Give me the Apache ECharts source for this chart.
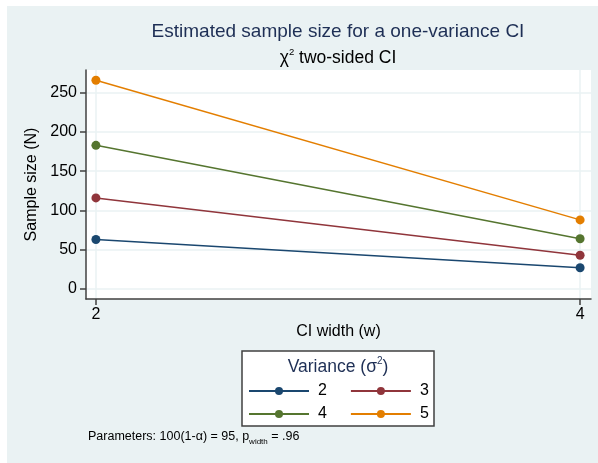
<!DOCTYPE html>
<html>
<head>
<meta charset="utf-8">
<script src="https://cdn.jsdelivr.net/npm/echarts@6/dist/echarts.min.js"></script>
<style>
  html, body { margin: 0; padding: 0; background: #fff; }
</style>
</head>
<body>
<div id="main" style="width:598px;height:463px;"></div>
<script>
// CI width (w) on the x axis
const widths = [2, 4]
// one line per variance
const varianceNames = ['2', '3', '4', '5']
const var2 = [63, 27]
const var3 = [116, 43]
const var4 = [183, 64]
const var5 = [266, 88]
const yTicks = [0, 50, 100, 150, 200, 250]
const xTicks = [2, 4]

const colors = ['#1a476f', '#90353b', '#55752f', '#e37e00']
const font = 'Liberation Sans, Arial, sans-serif'

function pairs(vals) {
  return widths.map((w, i) => [w, vals[i]])
}

const myChart = echarts.init(document.getElementById('main'))

const allVals = [var2, var3, var4, var5]
const series = varianceNames.map((name, i) => ({
  name: name,
  type: 'line',
  data: pairs(allVals[i]),
  symbol: 'circle',
  symbolSize: 9,
  color: colors[i],
  lineStyle: { width: 1.5 },
  animation: false
}))

const legendCommon = {
  orient: 'horizontal',
  left: 248,
  padding: 0,
  itemWidth: 60,
  itemHeight: 10,
  itemGap: 23,
  textStyle: { fontSize: 16, color: '#000', fontFamily: font, padding: [0, 0, 0, 4] },
  z: 10
}

const option = {
  backgroundColor: '#eaf2f3',
  textStyle: { fontFamily: font },
  grid: {
    left: 86,
    right: 7,
    top: 70,
    bottom: 164,
    show: true,
    backgroundColor: '#fff',
    borderWidth: 0
  },
  xAxis: {
    type: 'value',
    min: 1.959,
    max: 4.045,
    name: 'CI width (w)',
    nameLocation: 'middle',
    nameGap: 24,
    nameTextStyle: { fontSize: 16, color: '#000' },
    axisLine: { show: true, onZero: false, lineStyle: { color: '#404040', width: 1.5 } },
    axisTick: { show: true, length: 6, customValues: xTicks, lineStyle: { color: '#404040', width: 1.5 } },
    axisLabel: { customValues: xTicks, fontSize: 16, color: '#000', margin: 8 },
    splitLine: { show: true, lineStyle: { color: '#eaf2f3', width: 1.5 } }
  },
  yAxis: {
    type: 'value',
    min: -12.8,
    max: 279,
    name: 'Sample size (N)',
    nameLocation: 'middle',
    nameGap: 45,
    nameTextStyle: { fontSize: 16, color: '#000' },
    axisLine: { show: true, onZero: false, lineStyle: { color: '#404040', width: 1.5 } },
    axisTick: { show: true, length: 6, customValues: yTicks, lineStyle: { color: '#404040', width: 1.5 } },
    axisLabel: { customValues: yTicks, fontSize: 16, color: '#000', margin: 9 },
    splitLine: { show: true, lineStyle: { color: '#eaf2f3', width: 1.5 } }
  },
  legend: [
    Object.assign({ data: ['2', '3'], top: 383 }, legendCommon),
    Object.assign({ data: ['4', '5'], top: 406 }, legendCommon)
  ],
  graphic: [
    // white strips on the top and left edges
    { type: 'rect', left: 0, top: 0, shape: { width: 598, height: 6 }, style: { fill: '#fff' }, silent: true },
    { type: 'rect', left: 0, top: 0, shape: { width: 7, height: 463 }, style: { fill: '#fff' }, silent: true },
    // legend box
    {
      type: 'rect', z: 5,
      shape: { x: 242, y: 351, width: 192, height: 75 },
      style: { fill: '#fff', stroke: '#404040', lineWidth: 1.5 }
    },
    {
      type: 'text', z: 6,
      style: {
        x: 338, y: 366, textAlign: 'center', textVerticalAlign: 'middle',
        text: '{a|Variance (σ}{s|2}{a|)}',
        rich: {
          a: { fontSize: 17.5, fill: '#1e2f55', fontFamily: font, verticalAlign: 'bottom', lineHeight: 20 },
          s: { fontSize: 10, fill: '#1e2f55', fontFamily: font, verticalAlign: 'top', lineHeight: 20 }
        }
      }
    },
    // titles
    {
      type: 'text',
      style: {
        x: 338, y: 32, textAlign: 'center', textVerticalAlign: 'middle',
        text: 'Estimated sample size for a one-variance CI',
        fontSize: 19, fill: '#1e2f55', fontFamily: font
      }
    },
    {
      type: 'text',
      style: {
        x: 338, y: 57, textAlign: 'center', textVerticalAlign: 'middle',
        text: '{a|χ}{s|2}{a| two-sided CI}',
        rich: {
          a: { fontSize: 17.5, fill: '#000', fontFamily: font, verticalAlign: 'bottom', lineHeight: 20 },
          s: { fontSize: 9.5, fill: '#000', fontFamily: font, verticalAlign: 'top', lineHeight: 20 }
        }
      }
    },
    // note
    {
      type: 'text',
      style: {
        x: 88, y: 438, textAlign: 'left', textVerticalAlign: 'middle',
        text: '{a|Parameters: 100(1-α) = 95, p}{s|width}{a| = .96}',
        rich: {
          a: { fontSize: 12.5, fill: '#000', fontFamily: font, verticalAlign: 'top', lineHeight: 15 },
          s: { fontSize: 8, fill: '#000', fontFamily: font, verticalAlign: 'bottom', lineHeight: 14 }
        }
      }
    }
  ],
  series: series
}

myChart.setOption(option)
window.onresize = myChart.resize
</script>
</body>
</html>
